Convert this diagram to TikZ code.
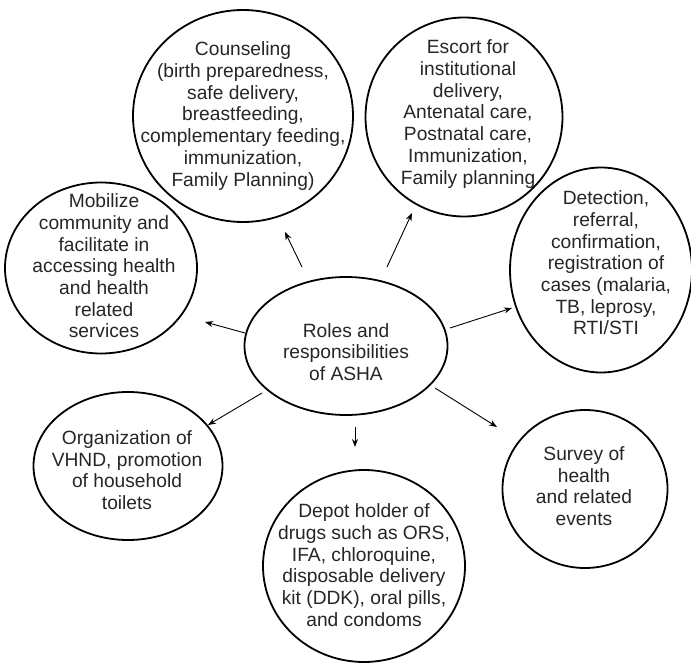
\documentclass[tikz,border=0pt]{standalone}
\usepackage{fontspec}
\setmainfont{Liberation Sans}
\usetikzlibrary{arrows.meta}
\begin{document}
\begin{tikzpicture}[x=1pt,y=-1pt,
  txt/.style={inner sep=0pt,align=center,text=black!85,
    font=\fontsize{19.2}{21.7}\selectfont},
  outl/.style={draw,line width=1.8pt},
  arr/.style={-{Stealth[length=8pt,width=6pt]},line width=0.9pt}]
\useasboundingbox (0,0) rectangle (691,663);
\fill[white] (0,0) rectangle (691,663);
% central
\node[txt] (c) at (346,352) {Roles and\\responsibilities\\of ASHA};
\draw[outl] (346,346) ellipse [x radius=101.5, y radius=69];
% outer bubbles
\node[txt] (couns) at (243,116)
  {Counseling\\(birth preparedness,\\safe delivery,\\breastfeeding,\\complementary feeding,\\immunization,\\Family Planning)};
\draw[outl] (couns.center) ellipse [x radius=110, y radius=106];
\node[txt] (esc) at (468,114)
  {Escort for\\institutional\\delivery,\\Antenatal care,\\Postnatal care,\\Immunization,\\Family planning};
\draw[outl] (464,117) ellipse [x radius=98.5, y radius=99.5];
\node[txt] (det) at (606,263)
  {Detection,\\referral,\\confirmation,\\registration of\\cases (malaria,\\TB, leprosy,\\RTI/STI};
\draw[outl] (601,270) ellipse [x radius=91, y radius=102.5];
\node[txt] (mob) at (104,266)
  {Mobilize\\community and\\facilitate in\\accessing health\\and health\\related\\services};
\draw[outl] (101,268) ellipse [x radius=96, y radius=85.5];
\node[txt] (org) at (127,470)
  {Organization of\\VHND, promotion\\of household\\toilets};
\draw[outl] (128,466) ellipse [x radius=94.5, y radius=74];
\node[txt] (dep) at (364,565)
  {Depot holder of\\drugs such as ORS,\\IFA, chloroquine,\\disposable delivery\\kit (DDK), oral pills,\\and condoms};
\draw[outl] (364,566) ellipse [x radius=101, y radius=96];
\node[txt] (sur) at (584,486)
  {Survey of\\health\\and related\\events};
\draw[outl] (585,489) ellipse [x radius=82.5, y radius=79];
% arrow end points
\coordinate (s1) at (302,267); \coordinate (e1) at (285,232);
\coordinate (s2) at (387,267); \coordinate (e2) at (412,213);
\coordinate (s3) at (245,333); \coordinate (e3) at (205,322);
\coordinate (s4) at (450,328); \coordinate (e4) at (512,308);
\coordinate (s5) at (262,393); \coordinate (e5) at (208,425);
\coordinate (s6) at (355,427); \coordinate (e6) at (355,447);
\coordinate (s7) at (435,388); \coordinate (e7) at (497,427);
\draw[arr] (s1) -- (e1);
\draw[arr] (s2) -- (e2);
\draw[arr] (s3) -- (e3);
\draw[arr] (s4) -- (e4);
\draw[arr] (s5) -- (e5);
\draw[arr] (s6) -- (e6);
\draw[arr] (s7) -- (e7);
\end{tikzpicture}
\end{document}
